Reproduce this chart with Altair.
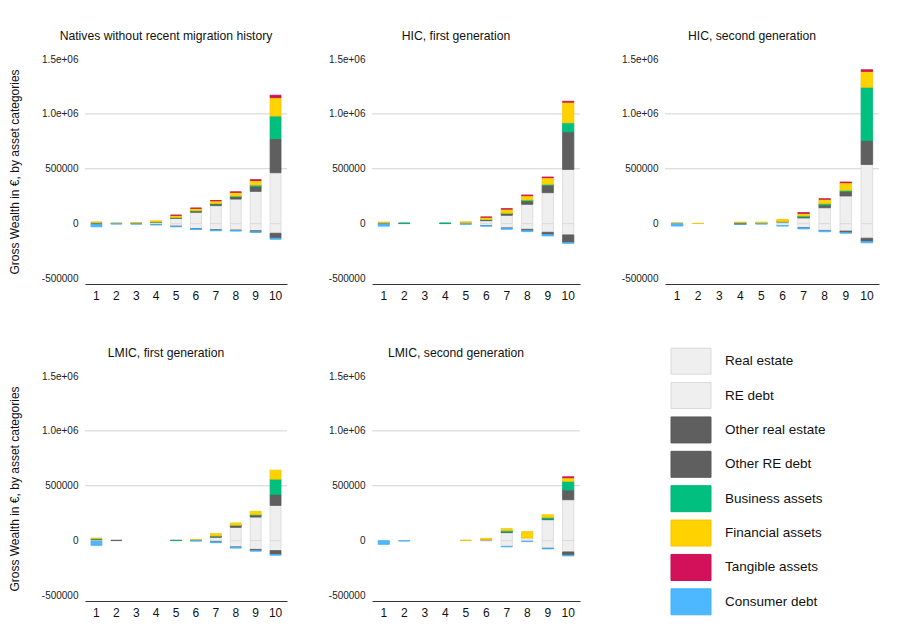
import altair as alt
import pandas as pd

FONT = "Liberation Sans"

panels = [
    "Natives without recent migration history",
    "HIC, first generation",
    "HIC, second generation",
    "LMIC, first generation",
    "LMIC, second generation",
]
categories = [
    "Real estate", "RE debt", "Other real estate", "Other RE debt",
    "Business assets", "Financial assets", "Tangible assets", "Consumer debt",
]
fill_colors = ["#efefef", "#efefef", "#5f5f5f", "#5f5f5f",
               "#00bf7f", "#ffd200", "#d3115a", "#4db8ff"]
stroke_colors = ["#d9d9d9", "#d9d9d9", "#5a5a5a", "#5a5a5a",
                 "#00b578", "#f2c700", "#c80f55", "#45b0f5"]
legend_strokes = ["#d9d9d9"] * 8
deciles = list(range(1, 11))

y_ticks = [-500000, 0, 500000, 1000000, 1500000]
y_tick_labels = ["-500000", "0", "500000", "1.0e+06", "1.5e+06"]
grid_values = [500000, 1000000]
y_domain = [-550000, 1500000]

# values per panel, per category, deciles 1..10 (EUR)
natives = {
    "Real estate":       [5000, 2000, 4000, 12000, 48000, 103000, 164000, 224000, 294000, 464000],
    "RE debt":           [-4000, -2000, -3000, -8000, -24000, -45000, -56000, -59000, -65000, -88000],
    "Other real estate": [5000, 1000, 2000, 3000, 6000, 12000, 15000, 21000, 45000, 309000],
    "Other RE debt":     [-1000, 0, 0, -1000, -1000, -2000, -2000, -3000, -9000, -45000],
    "Business assets":   [0, 0, 0, 1000, 2000, 3000, 4000, 6000, 12000, 207000],
    "Financial assets":  [6000, 1000, 4000, 10000, 20000, 22000, 25000, 34000, 42000, 168000],
    "Tangible assets":   [0, 0, 0, 0, 1000, 2000, 3000, 5000, 8000, 22000],
    "Consumer debt":     [-24000, -1000, -1000, -2000, -4000, -7000, -7000, -6000, -6000, -10000],
}
hic_first = {
    "Real estate":       [4000, 2000, 0, 2000, 6000, 27000, 76000, 176000, 282000, 494000],
    "RE debt":           [-3000, -1000, 0, -1000, -4000, -18000, -40000, -52000, -79000, -103000],
    "Other real estate": [3000, 1000, 0, 1000, 2000, 9000, 15000, 30000, 67000, 342000],
    "Other RE debt":     [0, 0, 0, 0, 0, -1000, -2000, -12000, -21000, -70000],
    "Business assets":   [0, 1000, 0, 1000, 0, 2000, 4000, 9000, 9000, 82000],
    "Financial assets":  [7000, 0, 0, 0, 9000, 21000, 37000, 40000, 61000, 188000],
    "Tangible assets":   [0, 0, 0, 0, 0, 1000, 4000, 6000, 6000, 9000],
    "Consumer debt":     [-20000, 0, 0, 0, -2000, -3000, -10000, -9000, -12000, -6000],
}
hic_second = {
    "Real estate":       [2000, 1000, 0, 3000, 3000, 15000, 52000, 145000, 252000, 539000],
    "RE debt":           [-2000, 0, 0, -4000, -2000, -18000, -38000, -62000, -68000, -133000],
    "Other real estate": [1000, 0, 0, 6000, 1000, 3000, 9000, 24000, 42000, 218000],
    "Other RE debt":     [0, 0, 0, -1000, 0, 0, -1000, -2000, -15000, -30000],
    "Business assets":   [0, 0, 0, 0, 0, 1000, 9000, 12000, 9000, 485000],
    "Financial assets":  [1000, 2000, 0, 5000, 10000, 20000, 24000, 42000, 70000, 145000],
    "Tangible assets":   [0, 0, 0, 0, 0, 0, 6000, 3000, 6000, 15000],
    "Consumer debt":     [-20000, 0, 0, -1000, -1000, -4000, -9000, -10000, -3000, -12000],
}
lmic_first = {
    "Real estate":       [8000, 2000, 0, 0, 1000, 2000, 30000, 121000, 215000, 321000],
    "RE debt":           [-5000, -1000, 0, 0, -1000, -2000, -10000, -58000, -80000, -91000],
    "Other real estate": [8000, 1000, 0, 0, 1000, 3000, 12000, 18000, 18000, 100000],
    "Other RE debt":     [0, 0, 0, 0, 0, 0, -1000, -2000, -12000, -36000],
    "Business assets":   [2000, 0, 0, 0, 1000, 0, 1000, 2000, 4000, 139000],
    "Financial assets":  [6000, 0, 0, 0, 0, 5000, 21000, 20000, 30000, 82000],
    "Tangible assets":   [0, 0, 0, 0, 0, 0, 0, 0, 0, 0],
    "Consumer debt":     [-38000, 0, 0, 0, 0, -1000, -8000, -8000, -3000, -6000],
}
lmic_second = {
    "Real estate":       [0, 1000, 0, 0, 2000, 8000, 73000, 24000, 191000, 373000],
    "RE debt":           [-1000, -1000, 0, 0, -1000, -3000, -52000, -6000, -70000, -103000],
    "Other real estate": [0, 0, 0, 0, 0, 1000, 6000, 0, 6000, 88000],
    "Other RE debt":     [0, 0, 0, 0, 0, 0, 0, 0, -1000, -30000],
    "Business assets":   [0, 0, 0, 0, 0, 0, 12000, 0, 15000, 79000],
    "Financial assets":  [0, 0, 0, 0, 2000, 12000, 18000, 58000, 24000, 33000],
    "Tangible assets":   [0, 0, 0, 0, 0, 0, 0, 0, 0, 9000],
    "Consumer debt":     [-33000, -2000, 0, 0, 0, 0, -5000, -3000, -5000, -6000],
}
panel_data = [natives, hic_first, hic_second, lmic_first, lmic_second]

rows = []
for p, d in zip(panels, panel_data):
    for ci, c in enumerate(categories):
        for dec, v in zip(deciles, d[c]):
            if v != 0:
                rows.append({"panel": p, "decile": dec, "cat": c, "ord": ci, "value": v})
df = pd.DataFrame(rows)

label_expr = ""
for v, l in zip(y_ticks, y_tick_labels):
    label_expr += f"datum.value == {v} ? '{l}' : "
label_expr += "''"

H = 225
yscale = alt.Scale(domain=y_domain, nice=False, zero=False)
color_scale = alt.Scale(domain=categories, range=fill_colors)
stroke_scale = alt.Scale(domain=categories, range=stroke_colors)


def make_panel(i, with_ytitle, width):
    sub = df[df["panel"] == panels[i]]
    axis_kw = dict(
        values=y_ticks, labelExpr=label_expr, grid=False, domain=False, ticks=False,
        labelPadding=7, labelFontSize=10, labelColor="#222", labelFont=FONT,
        titleFont=FONT, titleFontSize=12, titleFontWeight="normal", titleColor="#111",
        titlePadding=20,
    )
    axis_kw["title"] = "Gross Wealth in €, by asset categories" if with_ytitle else ""
    yaxis = alt.Axis(**axis_kw)
    grid = alt.Chart(pd.DataFrame({"g": grid_values})).mark_rule(
        color="#d2d2d2", strokeWidth=1
    ).encode(y=alt.Y("g:Q", scale=yscale, axis=yaxis))
    bars = alt.Chart(sub).mark_bar(strokeWidth=0.8).encode(
        x=alt.X("decile:O", sort=deciles,
                scale=alt.Scale(domain=deciles, paddingInner=0.45, paddingOuter=0.3),
                axis=alt.Axis(title=None, labelAngle=0, ticks=False, domain=True,
                              domainColor="#333", domainWidth=1, grid=False,
                              labelFontSize=12, labelFont=FONT, labelColor="#111",
                              labelPadding=6)),
        y=alt.Y("value:Q", stack="zero", scale=yscale, axis=yaxis),
        color=alt.Color("cat:N", scale=color_scale, legend=None),
        stroke=alt.Stroke("cat:N", scale=stroke_scale, legend=None),
        order=alt.Order("ord:Q", sort="ascending"),
    )
    return alt.layer(grid, bars).properties(
        width=width, height=H,
        title=alt.TitleParams(panels[i], fontSize=12.2, fontWeight="normal", font=FONT,
                              color="#111", anchor="middle", frame="group", dx=-20,
                              offset=12),
    )


leg_df = pd.DataFrame({"cat": categories})
leg_y = alt.Y("cat:N", sort=categories, axis=None,
              scale=alt.Scale(domain=categories, range=[-32, 243],
                              paddingInner=0.244, paddingOuter=0.122))
swatches = alt.Chart(leg_df).mark_rect(strokeWidth=1).encode(
    y=leg_y,
    x=alt.value(50), x2=alt.value(90),
    color=alt.Color("cat:N", scale=color_scale, legend=None),
    stroke=alt.Stroke("cat:N", scale=alt.Scale(domain=categories, range=legend_strokes),
                      legend=None),
)
labels = alt.Chart(leg_df).mark_text(align="left", baseline="middle", fontSize=13.5,
                                     font=FONT, color="#111").encode(
    y=leg_y, x=alt.value(104), text="cat:N",
)
legend = alt.layer(swatches, labels).properties(width=220, height=H)

row1 = alt.hconcat(make_panel(0, True, 202), make_panel(1, False, 208),
                   make_panel(2, False, 214), spacing=40)
row2 = alt.hconcat(make_panel(3, True, 202), make_panel(4, False, 208), legend, spacing=40)

chart = alt.vconcat(row1, row2, spacing=45).properties(
    padding={"left": 0, "top": 21, "right": 0, "bottom": 0}
).configure_view(strokeWidth=0)

chart.save("out.html", embed_options={"renderer": "svg", "actions": False})
